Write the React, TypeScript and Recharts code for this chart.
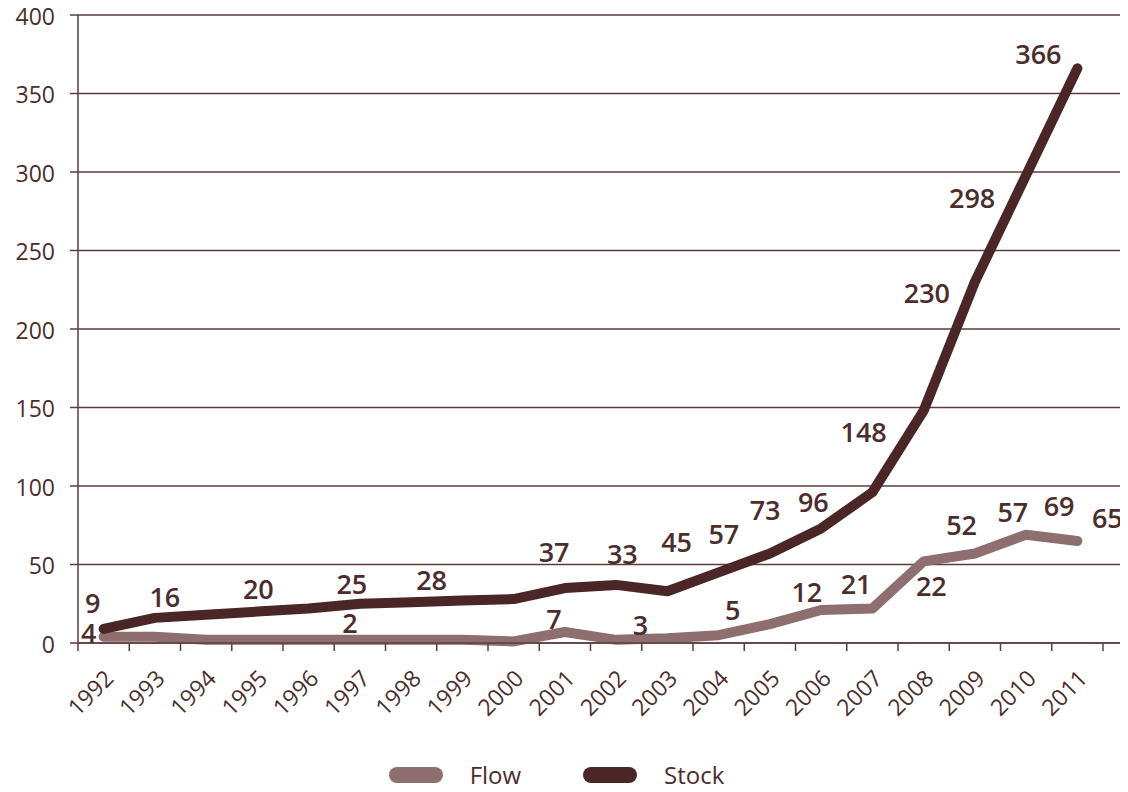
import React from 'react'
import { LineChart, Line, XAxis, YAxis, CartesianGrid, Legend, LabelList } from 'recharts'

const years = [1992, 1993, 1994, 1995, 1996, 1997, 1998, 1999, 2000, 2001, 2002, 2003, 2004, 2005, 2006, 2007, 2008, 2009, 2010, 2011]
const flow = [4, 4, 2, 2, 2, 2, 2, 2, 1, 7, 2, 3, 5, 12, 21, 22, 52, 57, 69, 65]
const stock = [9, 16, 18, 20, 22, 25, 26, 27, 28, 35, 37, 33, 45, 57, 73, 96, 148, 230, 298, 366]
const yTicks = [0, 50, 100, 150, 200, 250, 300, 350, 400]
const xTicks = [0, 1, 2, 3, 4, 5, 6, 7, 8, 9, 10, 11, 12, 13, 14, 15, 16, 17, 18, 19, 20]

// which points carry a value label, and where the label sits relative to the point
const stockLabelPos: Record<number, [number, number]> = {
  1992: [-11, -26], 1993: [10, -21], 1995: [1, -23], 1997: [-8, -20], 2000: [-82, -20],
  2002: [-62, -33], 2003: [-45, -38], 2004: [-42, -31], 2005: [-46, -20], 2006: [-56, -19],
  2007: [-59, 9], 2008: [-60, 21], 2009: [-48, 11], 2010: [-54, 22], 2011: [-39, -15],
}
const flowLabelPos: Record<number, [number, number]> = {
  1992: [-15, -4], 1997: [-10, -17], 2001: [-11, -14], 2003: [-27, -14], 2004: [14, -26],
  2005: [37, -33], 2006: [35, -27], 2007: [59, -23], 2008: [38, -37], 2009: [38, -42],
  2010: [33, -29], 2011: [30, -23],
}

const TEXT = '#4b2d2d'
const STOCK_COLOR = '#4a2627'
const FLOW_COLOR = '#8e6e6e'
const AXIS_COLOR = '#5e3d3d'
const FONT = '"Open Sans", sans-serif'

const rows = years.map((year, i) => ({ x: i + 0.5, year, flow: flow[i], stock: stock[i] }))

const makeLabel = (pos: Record<number, [number, number]>) => (props: any) => {
  const { x, y, value, index } = props
  const off = pos[years[index]]
  if (!off) return null
  return (
    <text x={x + off[0]} y={y + off[1]} textAnchor="middle" dominantBaseline="central"
      fill={TEXT} fontSize={27} fontWeight={600} fontFamily={FONT}>
      {value}
    </text>
  )
}

const YearTick = (props: any) => {
  const { x, y, payload } = props
  const label = years[payload.value]
  if (label === undefined) return null
  const ax = x + 37
  const ay = y + 27
  return (
    <text x={ax} y={ay} transform={`rotate(-45, ${ax}, ${ay})`} textAnchor="end"
      fill={TEXT} fontSize={23} fontFamily={FONT}>
      {label}
    </text>
  )
}

const ValueTick = (props: any) => {
  const { x, y, payload } = props
  return (
    <text x={x} y={y + 9.5} textAnchor="end" fill={TEXT} fontSize={23} fontFamily={FONT}>
      {payload.value}
    </text>
  )
}

const LegendBox = () => (
  <div style={{ height: 40, boxSizing: 'border-box', paddingBottom: 5, display: 'flex', alignItems: 'flex-end', justifyContent: 'center', fontFamily: FONT, fontSize: 24, lineHeight: '24px', color: TEXT, marginLeft: -18 }}>
    {[['Flow', FLOW_COLOR], ['Stock', STOCK_COLOR]].map(([name, color], i) => (
      <div key={name} style={{ display: 'flex', alignItems: 'center', height: 24, marginLeft: i ? 62 : 0 }}>
        <span style={{ display: 'inline-block', width: 54, height: 16, borderRadius: 8, background: color, marginRight: 27 }} />
        <span>{name}</span>
      </div>
    ))}
  </div>
)

const App: React.FC = () => {
  return (
    <div style={{ marginTop: -8 }}>
      <LineChart width={1120} height={792} data={rows} margin={{ top: 15, right: 5, left: 0, bottom: 0 }}
        style={{ overflow: 'visible' }}>
        <CartesianGrid vertical={false} stroke={AXIS_COLOR} strokeWidth={1.5} />
        <XAxis type="number" dataKey="x" domain={[0, 20]} ticks={xTicks} interval={0}
          padding={{ left: 0, right: 20 }} height={109} tickSize={8} tickMargin={2}
          stroke={AXIS_COLOR} strokeWidth={1.5} tick={<YearTick />} />
        <YAxis domain={[0, 400]} ticks={yTicks} width={70} tickSize={8} tickMargin={15}
          stroke={AXIS_COLOR} strokeWidth={1.5} tick={<ValueTick />} />
        <Legend verticalAlign="bottom" content={<LegendBox />} />
        <Line type="linear" dataKey="flow" name="Flow" stroke={FLOW_COLOR} strokeWidth={10}
          strokeLinecap="round" strokeLinejoin="round" dot={false} isAnimationActive={false}>
          <LabelList dataKey="flow" content={makeLabel(flowLabelPos)} />
        </Line>
        <Line type="linear" dataKey="stock" name="Stock" stroke={STOCK_COLOR} strokeWidth={10}
          strokeLinecap="round" strokeLinejoin="round" dot={false} isAnimationActive={false}>
          <LabelList dataKey="stock" content={makeLabel(stockLabelPos)} />
        </Line>
      </LineChart>
    </div>
  )
}

export default App
